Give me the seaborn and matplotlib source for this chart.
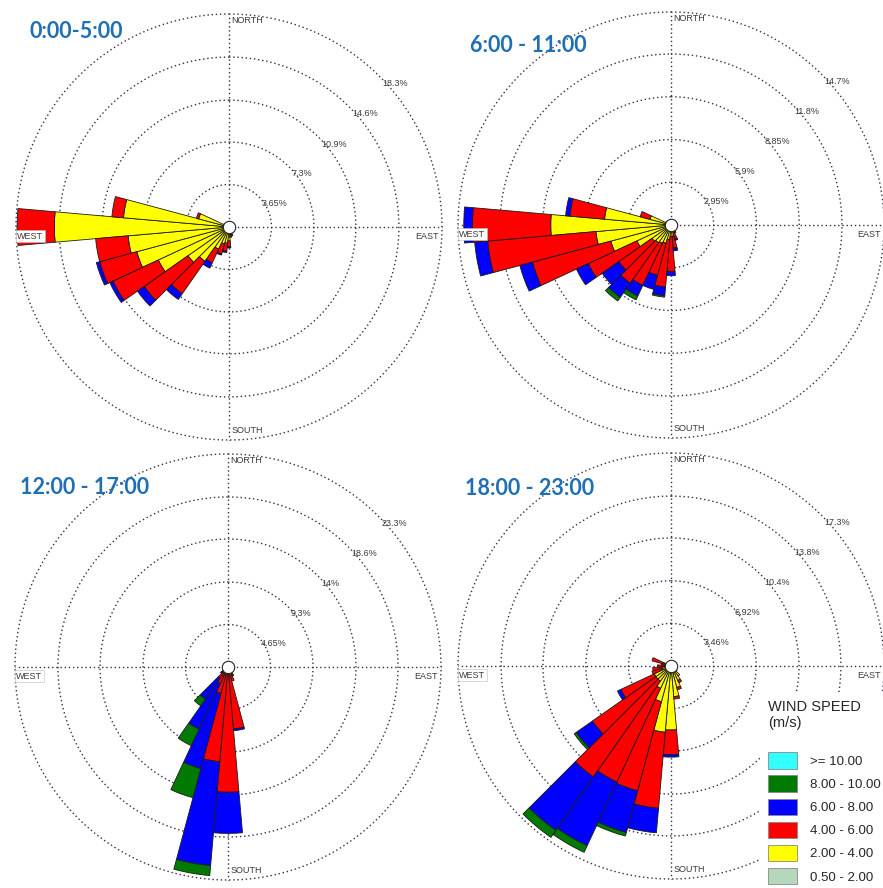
import numpy as np
import pandas as pd
import matplotlib
matplotlib.use("Agg")
import matplotlib.pyplot as plt
import seaborn as sns
from matplotlib.patches import Patch

sns.set_style("white")
plt.rcParams['font.family'] = ['Liberation Sans', 'DejaVu Sans']

# wind speed classes (m/s) and their colours
speed_bins = ["0.50 - 2.00", "2.00 - 4.00", "4.00 - 6.00", "6.00 - 8.00", "8.00 - 10.00", ">= 10.00"]
bin_colors = ["#b5d8bd", "#ffff00", "#ff0000", "#0000ff", "#007a00", "#33ffff"]

titles = ["0:00-5:00", "6:00 - 11:00", "12:00 - 17:00", "18:00 - 23:00"]
ring_values = [[3.65, 7.3, 10.9, 14.6, 18.3],
               [2.95, 5.9, 8.85, 11.8, 14.7],
               [4.65, 9.3, 14.0, 18.6, 23.3],
               [3.46, 6.92, 10.4, 13.8, 17.3]]
ring_labels = [["3.65%", "7.3%", "10.9%", "14.6%", "18.3%"],
               ["2.95%", "5.9%", "8.85%", "11.8%", "14.7%"],
               ["4.65%", "9.3%", "14%", "18.6%", "23.3%"],
               ["3.46%", "6.92%", "10.4%", "13.8%", "17.3%"]]

# 0:00-5:00 (direction in degrees, frequency % per speed class)
dirs_a = [150, 160, 170, 180, 190, 200, 210, 220, 230, 240, 250, 260, 270, 280, 290, 300, 310]
a_05 = [0.2, 0.2, 0.2, 0.2, 0.2, 0.2, 0.3, 0.3, 0.3, 0.3, 0.3, 0.3, 0.3, 0.3, 0.3, 0.2, 0.2]
a_2 = [0.3, 0.5, 0.5, 1.0, 1.2, 1.3, 1.8, 3.3, 4.0, 6.4, 7.9, 8.4, 14.7, 8.8, 2.4, 0.3, 0.2]
a_4 = [0.0, 0.1, 0.2, 0.5, 0.7, 0.9, 1.3, 3.4, 4.6, 4.3, 3.3, 2.8, 3.2, 1.0, 0.2, 0.0, 0.0]
a_6 = [0.0, 0.0, 0.0, 0.1, 0.1, 0.1, 0.5, 0.6, 0.7, 0.3, 0.3, 0.0, 0.0, 0.0, 0.0, 0.0, 0.0]
a_8 = [0.0] * 17

# 6:00-11:00
dirs_b = [140, 150, 160, 170, 180, 190, 200, 210, 220, 230, 240, 250, 260, 270, 280, 290, 300]
b_05 = [0.1, 0.1, 0.1, 0.2, 0.2, 0.2, 0.2, 0.2, 0.2, 0.2, 0.2, 0.2, 0.2, 0.2, 0.2, 0.2, 0.1]
b_2 = [0.2, 0.3, 0.4, 0.6, 0.6, 0.8, 1.1, 1.2, 1.3, 1.4, 2.4, 4.1, 5.0, 8.1, 4.4, 1.3, 0.3]
b_4 = [0.0, 0.2, 0.5, 0.8, 2.4, 3.3, 2.3, 3.2, 3.4, 2.8, 3.7, 5.6, 7.5, 5.4, 2.4, 0.7, 0.0]
b_6 = [0.0, 0.0, 0.1, 0.2, 0.3, 0.6, 1.0, 0.8, 1.2, 1.4, 0.9, 0.9, 0.9, 0.6, 0.3, 0.0, 0.0]
b_8 = [0.0, 0.0, 0.0, 0.0, 0.0, 0.1, 0.0, 0.3, 0.3, 0.0, 0.0, 0.0, 0.0, 0.0, 0.0, 0.0, 0.0]

# 12:00-17:00
dirs_c = [130, 140, 150, 160, 170, 180, 190, 200, 210, 220, 230, 240]
c_05 = [0.2, 0.2, 0.2, 0.2, 0.2, 0.2, 0.2, 0.2, 0.2, 0.2, 0.1, 0.1]
c_2 = [0.3, 0.5, 0.6, 0.8, 0.6, 0.6, 0.5, 0.3, 0.3, 0.3, 0.2, 0.2]
c_4 = [0.0, 0.0, 0.3, 0.6, 6.0, 12.9, 9.7, 2.5, 1.5, 1.0, 0.4, 0.3]
c_6 = [0.0, 0.0, 0.0, 0.0, 0.2, 4.5, 11.4, 8.5, 5.5, 2.8, 0.3, 0.0]
c_8 = [0.0, 0.0, 0.0, 0.0, 0.0, 0.0, 1.1, 3.3, 2.0, 0.9, 0.0, 0.0]

# 18:00-23:00
dirs_d = [130, 140, 150, 160, 170, 180, 190, 200, 210, 220, 230, 240, 250, 260, 270, 280, 290]
d_05 = [0.1, 0.2, 0.2, 0.2, 0.2, 0.2, 0.2, 0.2, 0.2, 0.2, 0.2, 0.2, 0.2, 0.2, 0.1, 0.1, 0.1]
d_2 = [0.5, 0.8, 1.1, 1.6, 2.3, 5.0, 5.2, 2.8, 1.8, 1.3, 1.3, 1.3, 0.6, 0.5, 0.4, 0.3, 0.5]
d_4 = [0.0, 0.0, 0.2, 0.2, 0.2, 2.0, 6.2, 7.5, 8.4, 9.5, 6.3, 3.0, 0.8, 0.8, 0.6, 0.4, 1.0]
d_6 = [0.0, 0.0, 0.0, 0.0, 0.0, 0.2, 2.0, 3.5, 5.7, 5.3, 1.6, 0.3, 0.0, 0.0, 0.0, 0.0, 0.0]
d_8 = [0.0, 0.0, 0.0, 0.0, 0.0, 0.0, 0.0, 0.3, 0.6, 0.7, 0.2, 0.0, 0.0, 0.0, 0.0, 0.0, 0.0]

panels = [
    (dirs_a, [a_05, a_2, a_4, a_6, a_8]),
    (dirs_b, [b_05, b_2, b_4, b_6, b_8]),
    (dirs_c, [c_05, c_2, c_4, c_6, c_8]),
    (dirs_d, [d_05, d_2, d_4, d_6, d_8]),
]

W, H = 883, 888
centers = [(229, 227), (671, 225), (228, 667), (671, 666)]
title_pos = [(30, 32), (470, 45), (20, 487), (465, 488)]
R = 213
grid_color = "#30304e"
dots = (0, (1, 2))


def draw_rose(ax, dirs, freqs, rings, ring_txt):
    ax.set_theta_zero_location("N")
    ax.set_theta_direction(-1)
    ax.grid(False)
    ax.set_xticks([])
    ax.set_yticks([])
    ax.spines["polar"].set_visible(False)
    ax.set_facecolor("none")
    rmax = rings[-1]
    ax.set_ylim(0, rmax)

    t = np.linspace(0, 2 * np.pi, 500)
    for r in rings:
        ax.plot(t, np.full_like(t, r), ls=dots, color=grid_color, lw=1.0, zorder=2, clip_on=False)
    for ang in [0, 90, 180, 270]:
        ax.plot([np.deg2rad(ang)] * 2, [0, rmax], ls=dots, color=grid_color, lw=1.0, zorder=2, clip_on=False)

    df = pd.DataFrame({"dir": dirs})
    theta = np.deg2rad(df["dir"].values)
    bottom = np.zeros(len(dirs))
    for vals, color in zip(freqs, bin_colors):
        vals = np.asarray(vals, dtype=float)
        m = vals > 0
        ax.bar(theta[m], vals[m], width=np.deg2rad(10), bottom=bottom[m], color=color,
               edgecolor="#1a1a1a", linewidth=0.6, zorder=3, align="center")
        bottom += vals

    ax.scatter([0], [0], s=80, c="white", edgecolors="#222222", linewidths=0.8, zorder=5)

    for r, txt in zip(rings, ring_txt):
        ax.annotate(txt, xy=(np.pi / 4, r), xytext=(2, -5), textcoords="offset points",
                    ha="left", va="center", fontsize=6.5, color="#3a3a3a", zorder=4)

    kw = dict(textcoords="offset points", fontsize=6.5, color="#3a3a3a", va="center", zorder=6)
    ax.annotate("NORTH", xy=(0, rmax), xytext=(1.5, -4.5), ha="left", annotation_clip=False, **kw)
    ax.annotate("SOUTH", xy=(np.pi, rmax), xytext=(2, 6.5), ha="left", annotation_clip=False, **kw)
    ax.annotate("EAST", xy=(np.pi / 2, rmax), xytext=(-2, -6.5), ha="right", annotation_clip=False, **kw)
    ax.annotate("WEST", xy=(3 * np.pi / 2, rmax), xytext=(1, -6.5), ha="left", annotation_clip=False,
                bbox=dict(boxstyle="square,pad=0.15", fc="white", ec="#bbbbbb", lw=0.4), **kw)


fig = plt.figure(figsize=(W / 100, H / 100), dpi=100)
for i, (dirs, freqs) in enumerate(panels):
    cx, cy = centers[i]
    ax = fig.add_axes([(cx - R) / W, 1 - (cy + R) / H, 2 * R / W, 2 * R / H], projection="polar")
    draw_rose(ax, dirs, freqs, ring_values[i], ring_labels[i])
    tx, ty = title_pos[i]
    fig.text(tx / W, 1 - ty / H, titles[i], ha="left", va="center", fontsize=15.5,
             fontweight="bold", color="#1f6fb5", family=["Lato", "DejaVu Sans"])

handles = [Patch(facecolor=c, edgecolor="#888888", lw=0.6) for c in bin_colors[::-1]]
leg = fig.legend(handles, speed_bins[::-1], loc="upper left",
                 bbox_to_anchor=(760 / W, 1 - 692 / H), frameon=True, facecolor="white",
                 edgecolor="none", framealpha=1, fontsize=9.5, title="WIND SPEED\n(m/s)",
                 title_fontsize=10.5, alignment="left", handlelength=2.2, handleheight=1.55,
                 labelspacing=0.5, handletextpad=1.0, borderpad=0.6, borderaxespad=0)
leg._legend_box.sep = 16
leg.set_zorder(10)

fig.savefig("out.png", dpi=100, facecolor="white")
